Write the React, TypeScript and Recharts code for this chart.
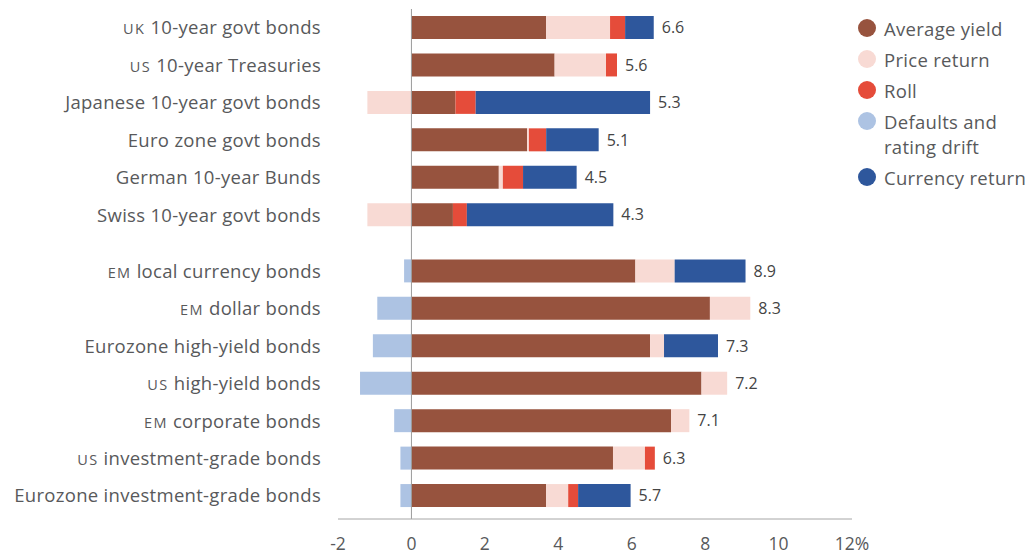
import React from 'react';
import {
    BarChart,
    Bar,
    XAxis,
    YAxis,
    Legend,
    LabelList,
    ReferenceLine
} from 'recharts';

// Bond categories, top to bottom; the first six are govt bonds, the rest credit/EM
const categories = [
    'UK 10-year govt bonds',
    'US 10-year Treasuries',
    'Japanese 10-year govt bonds',
    'Euro zone govt bonds',
    'German 10-year Bunds',
    'Swiss 10-year govt bonds',
    'EM local currency bonds',
    'EM dollar bonds',
    'Eurozone high-yield bonds',
    'US high-yield bonds',
    'EM corporate bonds',
    'US investment-grade bonds',
    'Eurozone investment-grade bonds'
];

// Return components, % a year
const averageYield = [3.67, 3.9, 1.2, 3.15, 2.38, 1.13, 6.1, 8.13, 6.5, 7.9, 7.07, 5.49, 3.67];
const priceReturn = [1.74, 1.4, -1.2, 0.05, 0.11, -1.2, 1.07, 1.1, 0.38, 0.7, 0.5, 0.87, 0.6];
const roll = [0.41, 0.3, 0.55, 0.47, 0.55, 0.38, 0, 0, 0, 0, 0, 0.27, 0.27];
const defaults = [0, 0, 0, 0, 0, 0, -0.2, -0.93, -1.05, -1.4, -0.47, -0.3, -0.3];
const currencyReturn = [0.78, 0, 4.75, 1.43, 1.46, 3.99, 1.93, 0, 1.47, 0, 0, 0, 1.43];

// Net expected return shown at the end of each bar
const totals = [6.6, 5.6, 5.3, 5.1, 4.5, 4.3, 8.9, 8.3, 7.3, 7.2, 7.1, 6.3, 5.7];

const xTicks = [-2, 0, 2, 4, 6, 8, 10, 12];

const series = [
    { key: 'averageYield', name: 'Average yield', color: '#97533e' },
    { key: 'priceReturn', name: 'Price return', color: '#f8dad4' },
    { key: 'roll', name: 'Roll', color: '#e54c3a' },
    { key: 'defaults', name: 'Defaults and rating drift', color: '#adc3e3' },
    { key: 'currencyReturn', name: 'Currency return', color: '#2e579c' }
];

// second group sits half a row further down
const rowPos = (i: number) => (i < 6 ? i : i + 0.5);

const data = categories.map((name, i) => ({
    name,
    pos: rowPos(i),
    averageYield: averageYield[i],
    priceReturn: priceReturn[i],
    roll: roll[i],
    defaults: defaults[i],
    currencyReturn: currencyReturn[i],
    total: totals[i]
}));

// the segment that ends the positive side of a row carries the total
const lastPositiveKey = (row: any) => {
    let last = '';
    series.forEach((s) => {
        if (row[s.key] > 0) last = s.key;
    });
    return last;
};

const FONT = '"Open Sans", "Noto Sans", sans-serif';
const TEXT = '#58595b';

const CategoryTick = ({ x, y, payload }: any) => {
    const row = data.find((d) => d.pos === payload.value);
    if (!row) return null;
    const m = row.name.match(/^(UK|US|EM)(\s.*)$/);
    return (
        <text x={x} y={y} dy="0.36em" textAnchor="end" fill={TEXT} fontSize={18.5} letterSpacing={0.3} fontFamily={FONT}>
            {m ? (
                <>
                    <tspan fontSize={14.5} letterSpacing={1.4}>{m[1]}</tspan>
                    <tspan>{m[2]}</tspan>
                </>
            ) : (
                row.name
            )}
        </text>
    );
};

const makeTotalLabel = (key: string) => (props: any) => {
    const row = props.value;
    if (!row || lastPositiveKey(row) !== key) return null;
    const vb = props.viewBox || props;
    const x = Number(vb.x) + Number(vb.width);
    const y = Number(vb.y) + Number(vb.height) / 2;
    return (
        <text x={x + 8} y={y} dy="0.36em" fill="#444" fontSize={16} fontFamily={FONT}>
            {row.total.toFixed(1)}
        </text>
    );
};

const renderLegend = () => (
    <ul style={{ listStyle: 'none', margin: 0, padding: 0, fontFamily: FONT, fontSize: 18.5, letterSpacing: 0.3, color: TEXT }}>
        {series.map((s) => (
            <li key={s.key} style={{ display: 'flex', alignItems: 'flex-start', lineHeight: '25px', marginBottom: 6 }}>
                <span
                    style={{
                        display: 'inline-block',
                        width: 18,
                        height: 18,
                        borderRadius: 9,
                        background: s.color,
                        marginTop: 3.5,
                        marginRight: 8,
                        flexShrink: 0
                    }}
                />
                <span style={{ width: s.key === 'defaults' ? 130 : 160 }}>{s.name}</span>
            </li>
        ))}
    </ul>
);

const App: React.FC = () => {
    return (
        <BarChart
            width={1020}
            height={548}
            data={data}
            layout="vertical"
            stackOffset="sign"
            margin={{ top: 1, right: 176, bottom: 7, left: 0 }}
        >
            <XAxis
                type="number"
                domain={[-2, 12]}
                ticks={xTicks}
                tickFormatter={(v) => (v === 12 ? '12%' : String(v))}
                axisLine={{ stroke: '#a6a6a6' }}
                tickLine={false}
                tickMargin={13}
                height={30}
                tick={{ fill: TEXT, fontSize: 17.5, fontFamily: FONT }}
            />
            <YAxis
                type="number"
                dataKey="pos"
                domain={[-0.5, 13.12]}
                ticks={data.map((d) => d.pos)}
                width={330}
                axisLine={false}
                tickLine={false}
                tickMargin={11}
                tick={<CategoryTick />}
                interval={0}
            />
            <ReferenceLine x={0} stroke="#9a9a9a" strokeWidth={1} />
            <Legend
                layout="vertical"
                align="center"
                verticalAlign="middle"
                content={renderLegend}
                wrapperStyle={{ top: 7.5, left: 850, width: 180 }}
            />
            {series.map((s) => (
                <Bar
                    key={s.key}
                    dataKey={s.key}
                    name={s.name}
                    stackId="ret"
                    fill={s.color}
                    barSize={23}
                    isAnimationActive={false}
                >
                    {s.key !== 'defaults' && (
                        <LabelList dataKey={(d: any) => d} content={makeTotalLabel(s.key)} />
                    )}
                </Bar>
            ))}
        </BarChart>
    );
};

export default App;
